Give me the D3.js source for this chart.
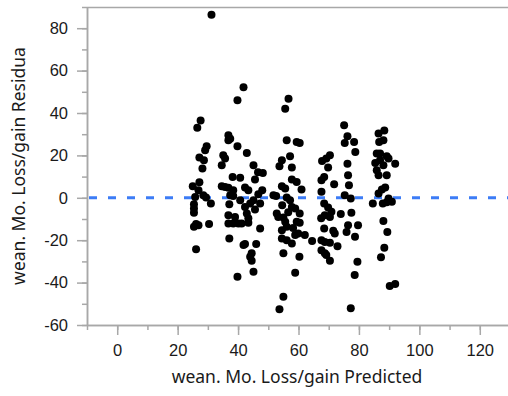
<!DOCTYPE html>
<html>
<head>
<meta charset="utf-8">
<script src="https://cdn.jsdelivr.net/npm/d3@7"></script>
<style>
  body { margin: 0; background: #fff; }
  svg { display: block; font-family: "Noto Sans", sans-serif; }
</style>
</head>
<body>
<div id="plot-container"></div>
<script>
// predicted values and residuals
const predicted = [
  31.2, 27.6, 26.5, 29.6, 29.1, 27.2, 28.7, 28.2, 25.0, 27.2, 26.9, 25.8, 28.5, 29.4, 31.0, 25.4, 25.4, 25.4, 26.1, 26.9, 25.4, 30.4, 26.1,
  41.8, 39.8, 36.8, 37.4, 36.8, 39.8, 35.1, 35.7, 34.6, 38.2, 40.7, 34.6, 35.7, 36.8, 38.4, 37.4, 38.4, 37.1, 36.8, 39.0, 36.8, 38.4, 40.1, 37.1, 41.8, 39.8,
  42.9, 45.1, 48.2, 45.6, 42.3, 43.4, 46.7, 45.1, 44.0, 47.3, 42.3, 45.6, 42.9, 43.4, 41.2, 43.4, 47.3, 42.3, 46.0, 44.5, 44.0, 44.5, 45.1, 46.6, 40.7, 48.0,
  56.7, 55.6, 56.1, 59.4, 60.4, 57.2, 54.5, 53.7, 57.8, 57.8, 59.4, 54.5, 55.6, 52.6, 51.7, 56.1, 57.2, 61.0, 57.8, 58.9, 52.8, 53.3, 55.0, 55.6, 56.1,
  59.4, 60.4, 60.4, 54.5, 56.1, 57.8, 58.9, 59.9, 62.1, 64.5, 55.0, 60.3, 58.9, 55.0, 53.7, 54.6, 56.6, 58.2, 54.5,
  75.1, 76.2, 78.4, 75.3, 78.8, 70.4, 69.2, 67.8, 69.8, 76.2, 68.5, 67.6, 76.4, 76.7, 71.8, 67.6, 75.3, 77.3, 68.5, 69.8, 70.9, 68.7, 70.4, 67.5,
  74.0, 77.5, 76.4, 75.9, 79.7, 68.5, 71.5, 72.0, 67.6, 68.7, 70.4, 72.9, 67.6, 68.7, 69.2, 70.4, 79.5, 78.6, 77.3, 78.7,
  88.4, 86.5, 86.7, 88.1, 85.9, 87.0, 89.2, 89.8, 87.0, 92.0, 85.4, 88.1, 85.9, 89.2, 86.5, 87.6, 88.7, 86.5, 84.6, 87.9, 89.8, 90.9, 89.2,
  88.1, 89.4, 88.4, 87.3, 90.2, 92.0
];
const residual = [
  86.4, 36.5, 33.1, 24.3, 22.4, 19.0, 17.7, 13.8, 5.5, 7.3, 3.6, 0.4, 1.2, 0.1, -2.7, -3.0, -5.0, -7.1, -12.4, -12.9, -13.7, -12.4, -24.3,
  52.2, 46.0, 29.5, 27.9, 27.1, 24.3, 20.1, 18.5, 15.3, 9.8, 9.4, 5.5, 5.1, 4.7, 3.6, 1.2, 0.8, -3.0, -8.2, -9.0, -12.1, -12.1, -12.1, -19.2, -22.3, -37.2,
  21.1, 15.3, 11.7, 8.6, 4.8, 3.6, 1.7, -1.1, -2.7, -2.7, -4.3, -5.5, -7.4, -9.7, -12.1, -11.8, -14.5, -21.8, -21.8, -26.2, -27.8, -29.7, -34.9, 12.0, -1.1, 3.6,
  46.7, 42.0, 27.1, 26.3, 25.8, 19.6, 17.7, 14.9, 14.3, 8.6, 7.5, 5.5, 4.4, 0.8, 1.2, 0.1, -1.1, 3.9, -4.3, -5.0, -7.4, -9.0, -9.3, -11.3, -13.7,
  -11.3, -7.4, -11.8, -19.2, -20.0, -21.5, -17.6, -16.8, -17.6, -20.4, -26.2, -27.8, -35.4, -46.7, -52.6, -3.5, -6.8, -14.3, -15.3,
  34.2, 29.0, 26.3, 25.8, 21.6, 20.1, 18.5, 17.4, 14.3, 16.1, 9.8, 8.3, 10.6, 5.9, 6.4, 2.8, 1.2, -0.3, -2.7, -4.6, -6.6, -8.2, -9.0, -9.6,
  -7.7, -7.1, -12.9, -16.1, -12.9, -14.5, -15.6, -16.8, -20.0, -20.8, -21.2, -22.8, -24.7, -26.2, -27.0, -29.7, -30.2, -36.4, -52.1, -18.4,
  31.8, 30.3, 26.3, 27.1, 20.9, 20.9, 19.6, 18.5, 17.7, 16.1, 16.4, 15.3, 13.0, 10.6, 10.6, 3.9, 4.8, 2.0, -2.7, -2.7, -0.3, -1.9, -2.1,
  -10.9, -16.1, -23.6, -28.1, -41.6, -40.7
];
const xTicks = [0, 20, 40, 60, 80, 100, 120];
const yTicks = [-60, -40, -20, 0, 20, 40, 60, 80];

const width = 508, height = 396;
const padLeft = 87, padTop = 7, padRight = 510, padBottom = 325;
const axisColor = '#a8a8a8';

const svg = d3.select('#plot-container')
  .append('svg')
  .attr('width', width)
  .attr('height', height);

const xScale = d3.scaleLinear().domain([-10, 130]).range([padLeft, padRight]);
const yScale = d3.scaleLinear().domain([-60, 90]).range([padBottom, padTop]);

// top border of the frame
svg.append('line').attr('x1', padLeft).attr('x2', padRight).attr('y1', padTop + 0.5).attr('y2', padTop + 0.5)
  .attr('stroke', axisColor).attr('stroke-width', 1.5);

function styleAxis(g) {
  g.select('.domain').attr('stroke', axisColor).attr('stroke-width', 1.5);
  g.selectAll('.tick line').attr('stroke', axisColor).attr('stroke-width', 1.5);
  g.selectAll('.tick text').attr('fill', '#1a1a1a').style('font-size', '16.5px');
}

const plain = d => String(d); // hyphen minus, like the original

// minor ticks
svg.append('g').attr('transform', `translate(0,${padBottom})`)
  .call(d3.axisBottom(xScale).tickValues(d3.range(-10, 131, 10)).tickSize(5).tickFormat('').tickSizeOuter(0))
  .call(styleAxis);
svg.append('g').attr('transform', `translate(${padLeft},0)`)
  .call(d3.axisLeft(yScale).tickValues(d3.range(-60, 91, 10)).tickSize(5).tickFormat('').tickSizeOuter(0))
  .call(styleAxis);

// major ticks
svg.append('g').attr('transform', `translate(0,${padBottom})`)
  .call(d3.axisBottom(xScale).tickValues(xTicks).tickFormat(plain).tickSize(10).tickPadding(9).tickSizeOuter(0))
  .call(styleAxis);
svg.append('g').attr('transform', `translate(${padLeft},0)`)
  .call(d3.axisLeft(yScale).tickValues(yTicks).tickFormat(plain).tickSize(10).tickPadding(9).tickSizeOuter(0))
  .call(styleAxis);

// zero reference line
svg.append('line')
  .attr('x1', padLeft + 2).attr('x2', padRight)
  .attr('y1', yScale(0)).attr('y2', yScale(0))
  .attr('stroke', '#3c7cf6')
  .attr('stroke-width', 3)
  .attr('stroke-dasharray', '8,11');

// points
svg.append('g')
  .selectAll('circle')
  .data(predicted)
  .enter()
  .append('circle')
  .attr('cx', d => xScale(d))
  .attr('cy', (d, i) => yScale(residual[i]))
  .attr('r', 4)
  .attr('fill', '#000');

// axis titles
svg.append('text')
  .attr('x', 297).attr('y', 383)
  .attr('text-anchor', 'middle')
  .style('font-size', '17.5px').attr('fill', '#1a1a1a')
  .text('wean. Mo. Loss/gain Predicted');
svg.append('text')
  .attr('transform', `translate(24.5,166) rotate(-90)`)
  .attr('text-anchor', 'middle')
  .style('font-size', '17.5px').attr('fill', '#1a1a1a')
  .text('wean. Mo. Loss/gain Residua');
</script>
</body>
</html>
